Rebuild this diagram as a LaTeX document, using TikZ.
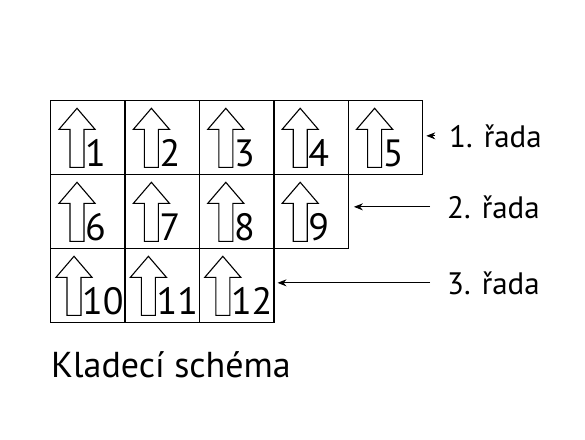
\documentclass[tikz,border=0pt]{standalone}
\usepackage{fontspec}
\setmainfont{PT Sans}
\usepackage{tikz}
\usetikzlibrary{arrows.meta, positioning}

\begin{document}
\begin{tikzpicture}[
        x=1pt, y=-1pt,
        cell/.style={draw, line width=1.3pt, minimum width=74.4pt, minimum height=74pt, inner sep=0pt, anchor=north west},
        num/.style={anchor=base west, inner sep=0pt, font=\fontsize{38}{38}\selectfont},
        rowlabel/.style={anchor=base west, inner sep=0pt, font=\fontsize{31}{31}\selectfont},
        pointer/.style={-{Stealth[length=9pt, width=7pt]}, line width=0.9pt},
        uparrow/.pic={\draw[line width=1.1pt, line join=miter] (-7,0) -- (-7,-38) -- (-18,-38) -- (0,-59) -- (18,-38) -- (7,-38) -- (7,0) -- cycle;}
    ]
        \useasboundingbox (0,0) rectangle (585,439);

        % Cells: number/column/row/shift
        \foreach \n/\c/\r/\dx in {1/0/0/0, 2/1/0/0, 3/2/0/0, 4/3/0/0, 5/4/0/0,
                                  6/0/1/0, 7/1/1/0, 8/2/1/0, 9/3/1/0,
                                  10/0/2/-3, 11/1/2/-3, 12/2/2/-3} {
            \node[cell] (c\n) at ({50+74.4*\c}, {100+74*\r}) {};
            \pic at ([shift={(27+\dx,-8)}]c\n.south west) {uparrow};
            \node[num] (n\n) at ([shift={(35+\dx,-9)}]c\n.south west) {\n};
        }

        % Rows
        \node[rowlabel] (r1) at (449,147) {1. řada};
        \node[rowlabel] (r2) at (447,218) {2. řada};
        \node[rowlabel] (r3) at (447,294) {3. řada};

        \draw[pointer, shorten <=14pt, shorten >=3pt] (r1.west) -- (r1.west -| c5.east);
        \draw[pointer, shorten <=17pt, shorten >=5pt] (r2.west) -- (r2.west -| c9.east);
        \draw[pointer, shorten <=17pt, shorten >=3pt] (r3.west) -- (r3.west -| c12.east);

        % Caption
        \node[rowlabel, font=\fontsize{36}{36}\selectfont] (caption) at (51,377) {Kladecí schéma};
    \end{tikzpicture}
\end{document}
